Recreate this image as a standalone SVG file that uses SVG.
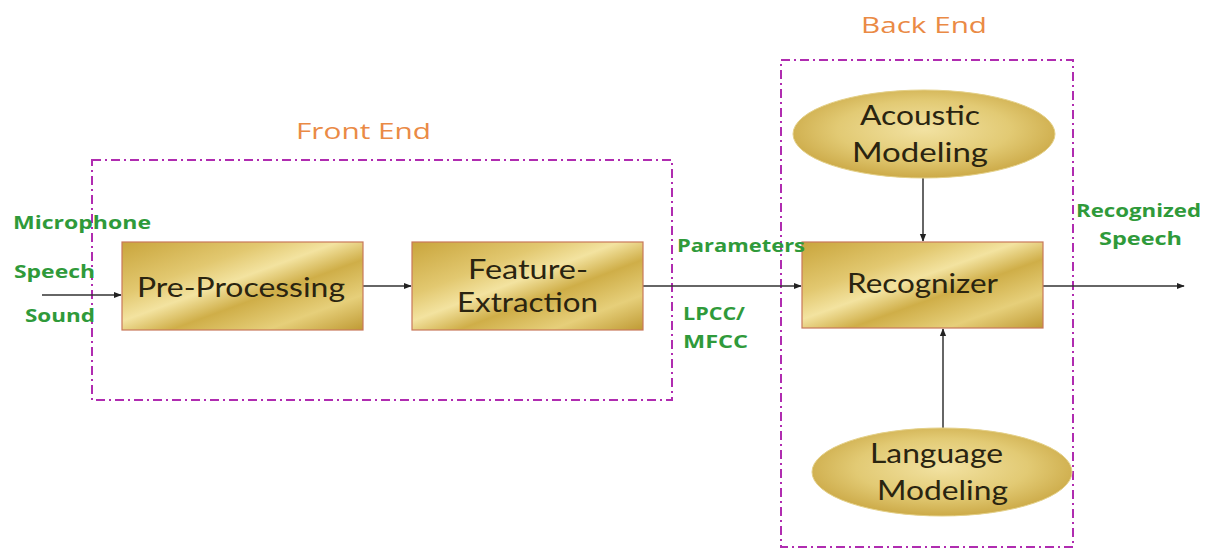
<svg xmlns="http://www.w3.org/2000/svg" width="1208" height="552" viewBox="0 0 1208 552">
<style>
.frame{fill:none;stroke:#b02cb0;stroke-width:2;stroke-dasharray:9 4 2 4}
.box{stroke:#c8785a;stroke-width:1.2}
.ell{stroke:#e4d088;stroke-width:1}
.node{font-family:Lato,"Open Sans",sans-serif;font-size:26px;fill:#2a2410}
.lbl{font-family:"Open Sans","Liberation Sans",sans-serif;font-weight:bold;font-size:18px;fill:#2f9a3a}
.ttl{font-family:"Open Sans","Liberation Sans",sans-serif;font-size:22px;fill:#ea8a45}
.con{stroke:#333;stroke-width:1.5;fill:none}
</style>
<defs>
<linearGradient id="gold" x1="0" y1="0" x2="1" y2="1">
<stop offset="0" stop-color="#c9a53c"/>
<stop offset="0.3" stop-color="#e2c870"/>
<stop offset="0.45" stop-color="#f3e3a0"/>
<stop offset="0.6" stop-color="#cfae48"/>
<stop offset="0.8" stop-color="#e6cf7a"/>
<stop offset="1" stop-color="#bf9a34"/>
</linearGradient>
<radialGradient id="goldE" cx="0.5" cy="0.45" r="0.55">
<stop offset="0" stop-color="#f2e2a2"/>
<stop offset="0.6" stop-color="#e2ca74"/>
<stop offset="1" stop-color="#ccaa48"/>
</radialGradient>
<marker id="arr" viewBox="0 0 10 10" refX="9" refY="5" markerWidth="8" markerHeight="8" orient="auto" markerUnits="userSpaceOnUse">
<path d="M0,1 L10,5 L0,9 z" fill="#222"/>
</marker>
</defs>
<rect width="1208" height="552" fill="#fff"/>
<g id="front-end">
<rect class="frame" x="92" y="160" width="580" height="240"/>
<text class="ttl" x="296" y="139" textLength="135" lengthAdjust="spacingAndGlyphs">Front End</text>
</g>
<g id="back-end">
<rect class="frame" x="781" y="60" width="292" height="487"/>
<text class="ttl" x="861" y="33" textLength="126" lengthAdjust="spacingAndGlyphs">Back End</text>
</g>
<g id="connectors">
<line class="con" x1="42" y1="295" x2="121" y2="295" marker-end="url(#arr)"/>
<line class="con" x1="363" y1="286" x2="411" y2="286" marker-end="url(#arr)"/>
<line class="con" x1="643" y1="286" x2="801" y2="286" marker-end="url(#arr)"/>
<line class="con" x1="923" y1="178" x2="923" y2="241" marker-end="url(#arr)"/>
<line class="con" x1="943" y1="428" x2="943" y2="329" marker-end="url(#arr)"/>
<line class="con" x1="1043" y1="286" x2="1184" y2="286" marker-end="url(#arr)"/>
</g>
<g id="pre-processing">
<rect class="box" x="122" y="242" width="241" height="88" fill="url(#gold)"/>
<text class="node" x="137" y="297" textLength="208" lengthAdjust="spacingAndGlyphs">Pre-Processing</text>
</g>
<g id="feature-extraction">
<rect class="box" x="412" y="242" width="231" height="88" fill="url(#gold)"/>
<text class="node" x="468" y="279" textLength="120" lengthAdjust="spacingAndGlyphs">Feature-</text>
<text class="node" x="457" y="312" textLength="141" lengthAdjust="spacingAndGlyphs">Extraction</text>
</g>
<g id="recognizer">
<rect class="box" x="802" y="242" width="241" height="86" fill="url(#gold)"/>
<text class="node" x="847" y="293" textLength="151" lengthAdjust="spacingAndGlyphs">Recognizer</text>
</g>
<g id="acoustic-modeling">
<ellipse class="ell" cx="924" cy="134" rx="131" ry="44" fill="url(#goldE)"/>
<text class="node" x="860" y="125" textLength="120" lengthAdjust="spacingAndGlyphs">Acoustic</text>
<text class="node" x="852" y="162" textLength="136" lengthAdjust="spacingAndGlyphs">Modeling</text>
</g>
<g id="language-modeling">
<ellipse class="ell" cx="942" cy="472" rx="130" ry="44" fill="url(#goldE)"/>
<text class="node" x="870" y="463" textLength="133" lengthAdjust="spacingAndGlyphs">Language</text>
<text class="node" x="877" y="500" textLength="131" lengthAdjust="spacingAndGlyphs">Modeling</text>
</g>
<g id="labels">
<text class="lbl" x="13" y="229" textLength="138" lengthAdjust="spacingAndGlyphs">Microphone</text>
<text class="lbl" x="14" y="278" textLength="81" lengthAdjust="spacingAndGlyphs">Speech</text>
<text class="lbl" x="25" y="322" textLength="70" lengthAdjust="spacingAndGlyphs">Sound</text>
<text class="lbl" x="677" y="252" textLength="128" lengthAdjust="spacingAndGlyphs">Parameters</text>
<text class="lbl" x="683" y="320" textLength="62" lengthAdjust="spacingAndGlyphs">LPCC/</text>
<text class="lbl" x="683" y="348" textLength="65" lengthAdjust="spacingAndGlyphs">MFCC</text>
<text class="lbl" x="1076" y="217" textLength="125" lengthAdjust="spacingAndGlyphs">Recognized</text>
<text class="lbl" x="1099" y="245" textLength="83" lengthAdjust="spacingAndGlyphs">Speech</text>
</g>
</svg>
